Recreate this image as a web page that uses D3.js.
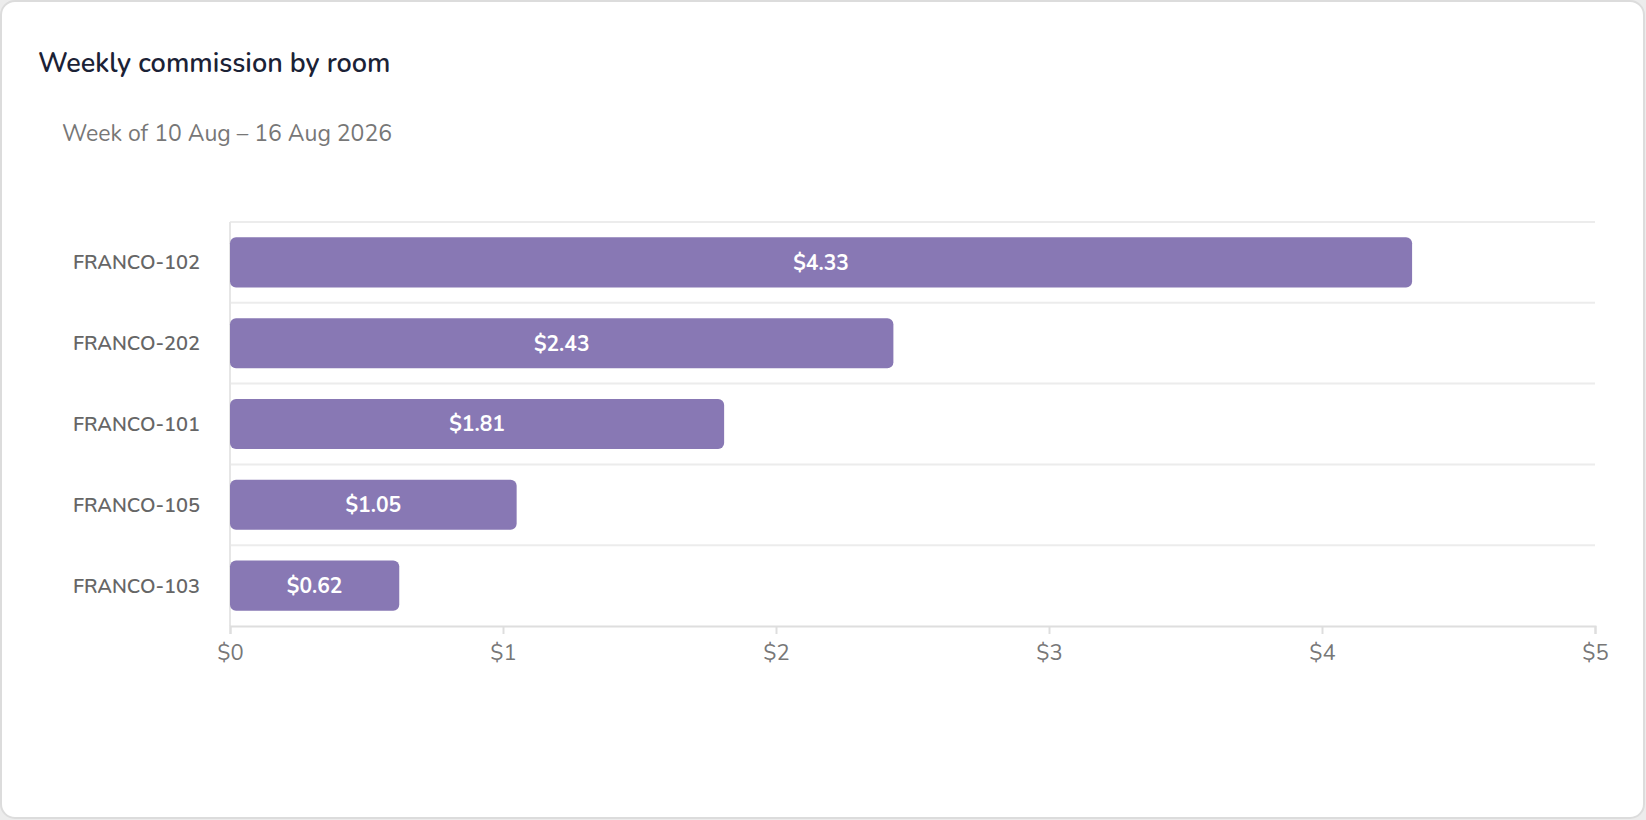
<!DOCTYPE html>
<html>
<head>
<meta charset="utf-8">
<script src="https://cdn.jsdelivr.net/npm/d3@7"></script>
<style>
  body { margin: 0; background: #ececec; font-family: Nunito, Lato, "Open Sans", sans-serif; }
</style>
</head>
<body>
<div id="chart"></div>
<script>
// rooms sorted by commission, largest first
var rooms = ['FRANCO-102', 'FRANCO-202', 'FRANCO-101', 'FRANCO-105', 'FRANCO-103'];
var commission = [4.33, 2.43, 1.81, 1.05, 0.62];
var ticks = [0, 1, 2, 3, 4, 5];

var W = 1646, H = 820;
var plotLeft = 230, plotRight = 1595, plotTop = 222, plotBottom = 626;

var svg = d3.select('#chart').append('svg')
  .attr('width', W).attr('height', H);

svg.append('rect')
  .attr('x', 1).attr('y', 1).attr('width', W - 3).attr('height', H - 3)
  .attr('rx', 14).attr('fill', '#fff').attr('stroke', '#dcdcdc').attr('stroke-width', 2);

svg.append('text').attr('x', 38).attr('y', 72)
  .attr('font-size', 27).attr('font-weight', 600).attr('fill', '#1b2236')
  .text('Weekly commission by room');

svg.append('text').attr('x', 62).attr('y', 141)
  .attr('font-size', 23).attr('fill', '#777')
  .text('Week of 10 Aug \u2013 16 Aug 2026');

var x = d3.scaleLinear().domain([0, 5]).range([plotLeft, plotRight]);
var y = d3.scaleBand().domain(rooms).range([plotTop, plotBottom]).paddingInner(0.38).paddingOuter(0.19);

// horizontal grid lines between rows
var step = (plotBottom - plotTop) / rooms.length;
svg.append('g').selectAll('line').data(d3.range(rooms.length))
  .enter().append('line')
    .attr('x1', plotLeft).attr('x2', plotRight)
    .attr('y1', function (d) { return plotTop + d * step; })
    .attr('y2', function (d) { return plotTop + d * step; })
    .attr('stroke', '#ececec').attr('stroke-width', 2);

svg.append('line').attr('x1', plotLeft).attr('x2', plotLeft).attr('y1', plotTop).attr('y2', plotBottom)
  .attr('stroke', '#e6e6e6').attr('stroke-width', 2);

var xAxis = svg.append('g').attr('transform', 'translate(0,' + plotBottom + ')')
  .call(d3.axisBottom(x).tickValues(ticks).tickSize(8).tickPadding(10)
    .tickFormat(function (d) { return '$' + d; }));
xAxis.select('.domain').attr('stroke', '#dedede').attr('stroke-width', 2);
xAxis.selectAll('.tick line').attr('stroke', '#dedede').attr('stroke-width', 2);
xAxis.selectAll('text').attr('font-size', 22).attr('fill', '#777').attr('font-family', 'Nunito, Lato, sans-serif');

svg.append('g').selectAll('text').data(rooms)
  .enter().append('text')
    .attr('x', plotLeft - 30)
    .attr('y', function (d) { return y(d) + y.bandwidth() / 2; })
    .attr('dy', '0.35em').attr('text-anchor', 'end')
    .attr('font-size', 20).attr('font-weight', 600).attr('fill', '#666')
    .text(function (d) { return d; });

svg.append('g').selectAll('rect').data(commission)
  .enter().append('rect')
    .attr('x', x(0))
    .attr('y', function (d, i) { return y(rooms[i]); })
    .attr('width', function (d) { return x(d) - x(0); })
    .attr('height', y.bandwidth())
    .attr('rx', 6).attr('fill', '#8878b4');

svg.append('g').selectAll('text').data(commission)
  .enter().append('text')
    .attr('x', function (d) { return (x(0) + x(d)) / 2; })
    .attr('y', function (d, i) { return y(rooms[i]) + y.bandwidth() / 2; })
    .attr('dy', '0.35em').attr('text-anchor', 'middle')
    .attr('font-size', 21).attr('font-weight', 700).attr('fill', '#fff')
    .text(function (d) { return '$' + d.toFixed(2); });
</script>
</body>
</html>
